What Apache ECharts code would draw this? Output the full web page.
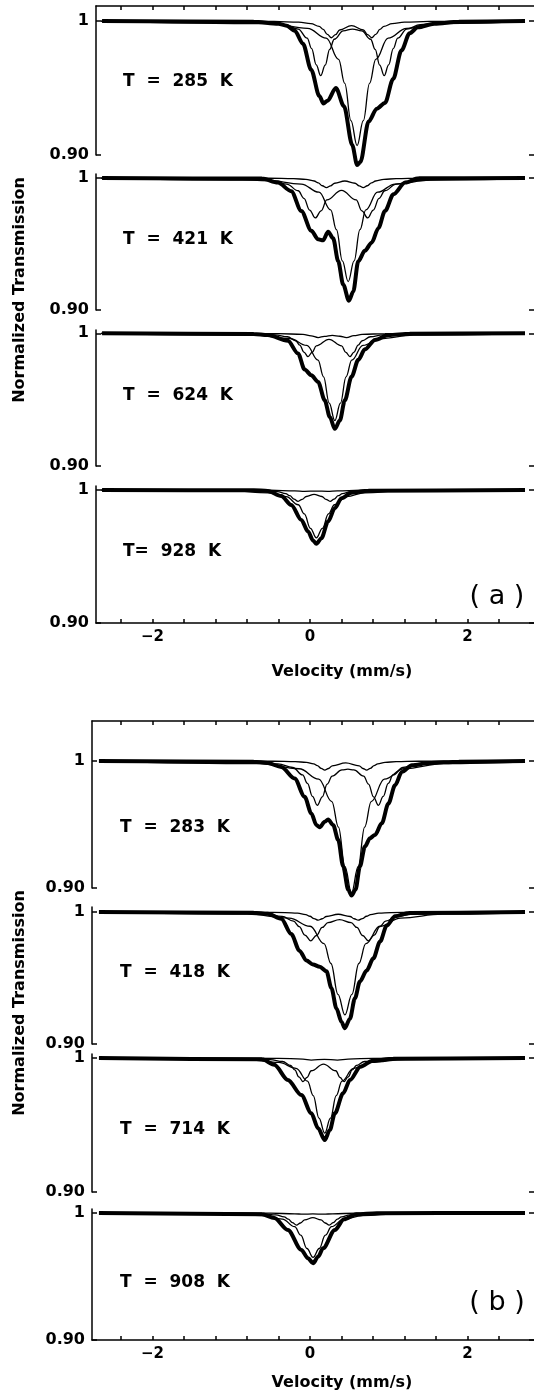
<!DOCTYPE html>
<html>
<head>
<meta charset="utf-8">
<script src="https://cdn.jsdelivr.net/npm/echarts@6/dist/echarts.min.js"></script>
<style>
  html, body { margin: 0; padding: 0; background: #fff; }
  #chart { width: 534px; height: 1392px; }
</style>
</head>
<body>
<div id="chart"></div>
<script>
// Mossbauer spectra: [velocity mm/s, normalized transmission]
const velTicks = [-2.4, -2, -1.6, -1.2, -0.8, -0.4, 0, 0.4, 0.8, 1.2, 1.6, 2, 2.4];
const velLabels = [-2, 0, 2];
const transTicks = [0.9, 1];
const tempLabelsA = ['T  =  285  K', 'T  =  421  K', 'T  =  624  K', 'T=  928  K'];
const tempLabelsB = ['T  =  283  K', 'T  =  418  K', 'T  =  714  K', 'T  =  908  K'];

// ---- panel (a) ----
const obs285 = [[-2.64,1.0],[-0.714,0.9995],[-0.401,0.998],[-0.297,0.9965],[-0.193,0.9927],[-0.089,0.983],[0.015,0.9636],[0.119,0.944],[0.171,0.9385],[0.223,0.9405],[0.328,0.95],[0.432,0.9364],[0.536,0.9075],[0.598,0.8925],[0.64,0.8947],[0.744,0.925],[0.848,0.9346],[0.952,0.9389],[1.056,0.9568],[1.161,0.978],[1.265,0.9909],[1.369,0.9953],[1.577,0.998],[1.889,0.9995],[2.73,1.0]];
const sing285 = [[-2.65,0.9998],[-0.505,0.9981],[-0.031,0.9945],[0.206,0.9872],[0.363,0.9714],[0.441,0.9535],[0.52,0.9256],[0.598,0.907],[0.677,0.9256],[0.756,0.9535],[0.835,0.9714],[0.992,0.9872],[1.227,0.9945],[1.699,0.9981],[2.73,0.9995]];
const dbl285 = [[-2.65,0.9999],[-0.666,0.999],[-0.322,0.9973],[-0.15,0.994],[-0.036,0.9872],[0.021,0.9794],[0.079,0.9673],[0.136,0.9592],[0.193,0.9671],[0.25,0.9789],[0.308,0.9864],[0.422,0.9926],[0.539,0.994],[0.656,0.9926],[0.77,0.9864],[0.827,0.9789],[0.885,0.9671],[0.942,0.9592],[0.999,0.9673],[1.057,0.9794],[1.114,0.9872],[1.228,0.994],[1.4,0.9973],[1.744,0.999],[2.73,0.9998]];
const weak285 = [[-2.65,0.9999],[-0.456,0.9997],[-0.144,0.9991],[0.012,0.9981],[0.116,0.996],[0.168,0.9937],[0.22,0.99],[0.272,0.9875],[0.324,0.9898],[0.376,0.9933],[0.527,0.9966],[0.678,0.9933],[0.731,0.9898],[0.783,0.9875],[0.835,0.99],[0.887,0.9937],[0.939,0.996],[1.043,0.9981],[1.199,0.9991],[1.512,0.9997],[2.73,0.9999]];

const obs421 = [[-2.64,1.0],[-0.61,0.9995],[-0.408,0.9965],[-0.238,0.99],[-0.11,0.975],[0.017,0.96],[0.103,0.9535],[0.166,0.9528],[0.23,0.9593],[0.294,0.9543],[0.358,0.937],[0.421,0.9194],[0.494,0.907],[0.549,0.914],[0.613,0.937],[0.698,0.945],[0.783,0.951],[0.868,0.962],[0.952,0.975],[1.06,0.9876],[1.208,0.9965],[1.379,0.9997],[2.73,1.0]];
const sing421 = [[-2.65,0.9998],[-0.558,0.9984],[-0.111,0.9954],[0.113,0.9892],[0.262,0.9758],[0.336,0.9608],[0.411,0.9372],[0.485,0.9215],[0.56,0.9372],[0.634,0.9608],[0.709,0.9758],[0.858,0.9892],[1.08,0.9954],[1.527,0.9984],[2.73,0.9995]];
const dbl421 = [[-2.65,0.9998],[-0.952,0.9992],[-0.515,0.9979],[-0.296,0.9954],[-0.15,0.9903],[-0.077,0.9846],[-0.005,0.9757],[0.068,0.9697],[0.141,0.9751],[0.214,0.9834],[0.4,0.9906],[0.586,0.9834],[0.659,0.9751],[0.732,0.9697],[0.804,0.9757],[0.877,0.9846],[0.95,0.9903],[1.096,0.9954],[1.315,0.9979],[1.752,0.9992],[2.73,0.9998]];
const weak421 = [[-2.65,1.0],[-0.52,0.9998],[-0.208,0.9995],[-0.051,0.9989],[0.053,0.9977],[0.105,0.9963],[0.157,0.9941],[0.209,0.9927],[0.261,0.994],[0.313,0.996],[0.442,0.9977],[0.572,0.996],[0.624,0.994],[0.676,0.9927],[0.728,0.9941],[0.781,0.9963],[0.833,0.9977],[0.937,0.9989],[1.093,0.9995],[1.405,0.9998],[2.73,1.0]];

const obs624 = [[-2.64,1.0],[-0.714,0.9995],[-0.536,0.9987],[-0.281,0.9944],[-0.152,0.9848],[-0.068,0.9727],[0.017,0.9684],[0.103,0.9634],[0.187,0.9495],[0.252,0.9369],[0.315,0.928],[0.379,0.9343],[0.442,0.9495],[0.527,0.9672],[0.613,0.98],[0.697,0.9879],[0.825,0.995],[0.996,0.9987],[1.265,0.9997],[2.73,1.0]];
const sing624 = [[-2.65,0.9998],[-0.684,0.9987],[-0.256,0.9961],[-0.041,0.9909],[0.102,0.9798],[0.172,0.9672],[0.244,0.9474],[0.315,0.9343],[0.387,0.9474],[0.458,0.9672],[0.53,0.9798],[0.672,0.9909],[0.886,0.9961],[1.314,0.9987],[2.73,0.9996]];
const dbl624 = [[-2.65,0.9999],[-0.754,0.9995],[-0.442,0.9988],[-0.286,0.9974],[-0.182,0.9944],[-0.13,0.9911],[-0.077,0.9859],[-0.025,0.9824],[0.027,0.9856],[0.079,0.9905],[0.241,0.9955],[0.402,0.9905],[0.455,0.9856],[0.507,0.9824],[0.559,0.9859],[0.611,0.9911],[0.663,0.9944],[0.767,0.9974],[0.923,0.9988],[1.236,0.9995],[2.73,0.9999]];
const weak624 = [[-2.65,1.0],[-0.401,0.9998],[-0.089,0.9992],[0.015,0.9981],[0.103,0.9968],[0.182,0.9977],[0.283,0.9985],[0.38,0.9978],[0.464,0.9968],[0.557,0.9982],[0.661,0.9992],[0.952,0.9998],[2.73,1.0]];

const obs928 = [[-2.64,1.0],[-0.714,0.9998],[-0.536,0.9993],[-0.365,0.9955],[-0.238,0.9888],[-0.11,0.9775],[-0.025,0.9688],[0.039,0.962],[0.081,0.9595],[0.145,0.9638],[0.23,0.9763],[0.315,0.9863],[0.4,0.9938],[0.527,0.998],[0.74,0.9995],[2.73,1.0]];
const sing928 = [[-2.65,0.9999],[-0.991,0.9993],[-0.531,0.9979],[-0.302,0.995],[-0.149,0.9889],[-0.072,0.982],[0.005,0.9712],[0.081,0.964],[0.158,0.9712],[0.234,0.982],[0.311,0.9889],[0.464,0.995],[0.693,0.9979],[1.152,0.9993],[2.73,0.9998]];
const dbl928 = [[-2.65,0.9999],[-0.88,0.9998],[-0.568,0.9994],[-0.412,0.9987],[-0.308,0.9973],[-0.256,0.9957],[-0.203,0.9932],[-0.151,0.9915],[-0.099,0.993],[-0.047,0.9951],[0.052,0.9967],[0.15,0.9951],[0.203,0.993],[0.255,0.9915],[0.307,0.9932],[0.359,0.9957],[0.411,0.9973],[0.515,0.9987],[0.671,0.9994],[0.983,0.9998],[2.73,0.9999]];
const weak928 = [[-2.65,1.0],[-0.505,0.9998],[-0.193,0.9993],[-0.068,0.999],[0.078,0.9992],[0.223,0.999],[0.348,0.9993],[0.64,0.9998],[2.73,1.0]];

// ---- panel (b) ----
const obs283 = [[-2.68,1.0],[-0.714,0.9995],[-0.536,0.9984],[-0.365,0.9953],[-0.195,0.9862],[-0.068,0.9718],[0.017,0.9587],[0.081,0.9496],[0.123,0.9478],[0.187,0.9522],[0.23,0.954],[0.294,0.9496],[0.358,0.9379],[0.421,0.917],[0.485,0.8987],[0.527,0.894],[0.578,0.8987],[0.634,0.917],[0.697,0.9326],[0.762,0.9392],[0.825,0.9418],[0.911,0.9509],[0.996,0.9666],[1.08,0.9809],[1.166,0.9914],[1.294,0.9966],[1.506,0.9984],[1.889,0.9995],[2.73,1.0]];
const sing283 = [[-2.65,0.9997],[-0.639,0.9979],[-0.139,0.9939],[0.111,0.9857],[0.277,0.968],[0.361,0.948],[0.444,0.9168],[0.527,0.896],[0.611,0.9168],[0.694,0.948],[0.777,0.968],[0.944,0.9857],[1.194,0.9939],[1.694,0.9979],[2.73,0.9993]];
const dbl283 = [[-2.65,0.9999],[-0.781,0.9991],[-0.407,0.9977],[-0.219,0.9949],[-0.094,0.989],[-0.032,0.9824],[0.031,0.9721],[0.093,0.9651],[0.156,0.9718],[0.218,0.9818],[0.281,0.9881],[0.406,0.993],[0.481,0.9936],[0.556,0.993],[0.681,0.9881],[0.743,0.9818],[0.806,0.9718],[0.868,0.9651],[0.93,0.9721],[0.993,0.9824],[1.055,0.989],[1.18,0.9949],[1.368,0.9977],[1.743,0.9991],[2.73,0.9998]];
const weak283 = [[-2.65,1.0],[-0.468,0.9998],[-0.187,0.9995],[-0.046,0.9989],[0.047,0.9977],[0.094,0.9963],[0.141,0.9942],[0.188,0.9928],[0.235,0.9941],[0.282,0.9962],[0.454,0.9985],[0.625,0.9962],[0.672,0.9941],[0.719,0.9928],[0.766,0.9942],[0.813,0.9963],[0.86,0.9977],[0.953,0.9989],[1.094,0.9995],[1.375,0.9998],[2.73,1.0]];

const obs418 = [[-2.68,1.0],[-0.714,0.9995],[-0.536,0.9987],[-0.365,0.9949],[-0.238,0.9833],[-0.132,0.9705],[-0.046,0.9633],[0.038,0.9603],[0.123,0.9585],[0.209,0.9551],[0.272,0.9423],[0.336,0.9269],[0.4,0.9167],[0.442,0.912],[0.507,0.9192],[0.57,0.9346],[0.634,0.9474],[0.719,0.9556],[0.804,0.9649],[0.89,0.9777],[0.974,0.9897],[1.08,0.9967],[1.251,0.9992],[2.73,1.0]];
const sing418 = [[-2.65,0.9997],[-0.796,0.9984],[-0.265,0.9954],[0.001,0.9892],[0.178,0.976],[0.266,0.961],[0.355,0.9376],[0.443,0.922],[0.532,0.9376],[0.62,0.961],[0.709,0.976],[0.886,0.9892],[1.151,0.9954],[1.682,0.9984],[2.73,0.9994]];
const dbl418 = [[-2.65,0.9999],[-1.012,0.9994],[-0.574,0.9985],[-0.355,0.9967],[-0.21,0.9931],[-0.137,0.9889],[-0.064,0.9825],[0.009,0.9782],[0.082,0.9822],[0.155,0.9883],[0.228,0.992],[0.375,0.9942],[0.522,0.992],[0.595,0.9883],[0.668,0.9822],[0.741,0.9782],[0.814,0.9825],[0.887,0.9889],[0.96,0.9931],[1.105,0.9967],[1.324,0.9985],[1.761,0.9994],[2.73,0.9998]];
const weak418 = [[-2.65,1.0],[-0.626,0.9998],[-0.314,0.9996],[-0.158,0.9991],[-0.054,0.998],[-0.001,0.9968],[0.051,0.995],[0.103,0.9938],[0.155,0.9949],[0.207,0.9966],[0.358,0.9983],[0.509,0.9966],[0.561,0.9949],[0.613,0.9938],[0.665,0.995],[0.717,0.9968],[0.769,0.998],[0.873,0.9991],[1.029,0.9996],[1.342,0.9998],[2.73,1.0]];

const obs714 = [[-2.68,1.0],[-0.61,0.999],[-0.453,0.995],[-0.281,0.9836],[-0.11,0.9724],[0.017,0.9587],[0.103,0.9475],[0.187,0.9388],[0.252,0.9463],[0.315,0.9587],[0.421,0.9737],[0.507,0.9836],[0.64,0.9935],[0.796,0.998],[1.056,0.9995],[2.73,1.0]];
const sing714 = [[-2.65,0.9998],[-0.834,0.9989],[-0.396,0.9967],[-0.177,0.9923],[-0.032,0.9828],[0.041,0.972],[0.114,0.9552],[0.187,0.944],[0.26,0.9552],[0.333,0.972],[0.406,0.9828],[0.551,0.9923],[0.77,0.9967],[1.207,0.9989],[2.73,0.9996]];
const dbl714 = [[-2.65,0.9999],[-0.818,0.9995],[-0.505,0.9988],[-0.349,0.9974],[-0.245,0.9944],[-0.193,0.9911],[-0.141,0.9859],[-0.089,0.9824],[-0.037,0.9856],[0.015,0.9905],[0.171,0.9955],[0.328,0.9905],[0.38,0.9856],[0.432,0.9824],[0.484,0.9859],[0.536,0.9911],[0.588,0.9944],[0.692,0.9974],[0.848,0.9988],[1.161,0.9995],[2.73,0.9999]];
const weak714 = [[-2.65,1.0],[-0.401,0.9998],[-0.089,0.9992],[0.015,0.9985],[0.182,0.999],[0.348,0.9985],[0.484,0.9992],[0.796,0.9998],[2.73,1.0]];

const obs908 = [[-2.68,1.0],[-0.61,0.999],[-0.453,0.996],[-0.281,0.9866],[-0.11,0.9709],[-0.025,0.9643],[0.039,0.9604],[0.103,0.9656],[0.166,0.9722],[0.315,0.9866],[0.432,0.995],[0.588,0.999],[0.848,0.9998],[2.73,1.0]];
const sing908 = [[-2.65,0.9999],[-1.054,0.9993],[-0.586,0.9979],[-0.351,0.9952],[-0.195,0.9892],[-0.117,0.9825],[-0.039,0.972],[0.039,0.965],[0.117,0.972],[0.195,0.9825],[0.273,0.9892],[0.43,0.9952],[0.664,0.9979],[1.132,0.9993],[2.73,0.9998]];
const dbl908 = [[-2.65,0.9999],[-0.901,0.9998],[-0.589,0.9993],[-0.433,0.9985],[-0.328,0.9969],[-0.276,0.9951],[-0.224,0.9924],[-0.172,0.9904],[-0.12,0.9921],[-0.068,0.9945],[0.036,0.9963],[0.14,0.9945],[0.192,0.9921],[0.244,0.9904],[0.296,0.9924],[0.348,0.9951],[0.4,0.9969],[0.505,0.9985],[0.661,0.9993],[0.973,0.9998],[2.73,0.9999]];
const weak908 = [[-2.65,1.0],[-0.505,0.9998],[-0.193,0.9993],[-0.089,0.999],[0.036,0.9992],[0.171,0.999],[0.286,0.9993],[0.588,0.9998],[2.73,1.0]];

const spectraA = [
  [obs285, sing285, dbl285, weak285],
  [obs421, sing421, dbl421, weak421],
  [obs624, sing624, dbl624, weak624],
  [obs928, sing928, dbl928, weak928]
];
const spectraB = [
  [obs283, sing283, dbl283, weak283],
  [obs418, sing418, dbl418, weak418],
  [obs714, sing714, dbl714, weak714],
  [obs908, sing908, dbl908, weak908]
];

// layout: pixel rows [top, bottom(=0.90), y max]
const FONT = '"DejaVu Sans", sans-serif';
const panels = [
  { left: 96, xmin: -2.717, xmax: 2.844, spectra: spectraA, labels: tempLabelsA, labelX: 123,
    labelY: [82, 240, 396, 552],
    rows: [[6, 155, 1.0112], [174, 310, 1.003], [330, 466, 1.0025], [486, 623, 1.003]] },
  { left: 92, xmin: -2.768, xmax: 2.844, spectra: spectraB, labels: tempLabelsB, labelX: 120,
    labelY: [828, 973, 1130, 1283],
    rows: [[721, 888, 1.0315], [907, 1044, 1.0038], [1054, 1192, 1.003], [1209, 1340, 1.0031]] }
];

const grid = [], xAxis = [], yAxis = [], series = [], graphic = [];
const black = '#000';
const tickStyle = { color: black, width: 1.5 };

panels.forEach((p) => {
  p.rows.forEach((r, i) => {
    const gi = grid.length;
    grid.push({ left: p.left, right: 0, top: r[0], height: r[1] - r[0], outerBoundsMode: 'none' });

    const isBottom = i === p.rows.length - 1;
    const xi = xAxis.length;
    xAxis.push({
      type: 'value', gridIndex: gi, min: p.xmin, max: p.xmax, position: 'bottom',
      show: isBottom,
      axisLine: { show: true, onZero: false, lineStyle: tickStyle },
      axisTick: { show: true, inside: true, length: 4, customValues: velTicks, lineStyle: tickStyle },
      axisLabel: {
        show: true, customValues: velLabels, margin: 7,
        formatter: (v) => (v < 0 ? '\u2212' + Math.abs(v) : String(v)),
        color: black, fontFamily: FONT, fontWeight: 'bold', fontSize: 15
      },
      splitLine: { show: false }
    });
    if (i === 0) {
      // top frame of the panel
      xAxis.push({
        type: 'value', gridIndex: gi, min: p.xmin, max: p.xmax, position: 'top',
        axisLine: { show: true, onZero: false, lineStyle: tickStyle },
        axisTick: { show: true, inside: true, length: 4, customValues: velTicks, lineStyle: tickStyle },
        axisLabel: { show: false },
        splitLine: { show: false }
      });
    }

    const yi = yAxis.length;
    yAxis.push({
      type: 'value', gridIndex: gi, min: 0.9, max: r[2], position: 'left',
      axisLine: { show: true, onZero: false, lineStyle: tickStyle },
      axisTick: { show: true, inside: true, length: 5, customValues: transTicks, lineStyle: tickStyle },
      axisLabel: {
        show: true, customValues: transTicks, margin: 7,
        formatter: (v) => (v === 1 ? '1' : v.toFixed(2)),
        color: black, fontFamily: FONT, fontWeight: 'bold', fontSize: 16
      },
      splitLine: { show: false }
    });
    yAxis.push({
      type: 'value', gridIndex: gi, min: 0.9, max: r[2], position: 'right',
      axisLine: { show: false, onZero: false },
      axisTick: { show: true, inside: true, length: 5, customValues: transTicks, lineStyle: tickStyle },
      axisLabel: { show: false },
      splitLine: { show: false }
    });

    p.spectra[i].forEach((d, k) => {
      series.push({
        type: 'line', xAxisIndex: xi, yAxisIndex: yi, data: d,
        symbol: 'none', smooth: k === 0 ? 0.3 : 0.4, smoothMonotone: 'x', clip: false,
        silent: true, z: k === 0 ? 2 : 3,
        lineStyle: { color: black, width: k === 0 ? 4 : 1.3 }
      });
    });

    graphic.push({
      type: 'text', x: p.labelX, y: p.labelY[i],
      style: { text: p.labels[i], fill: black, font: 'bold 17px ' + FONT,
               align: 'left', verticalAlign: 'middle', textAlign: 'left', textVerticalAlign: 'middle' }
    });
  });
});

const titleFont = 'bold 16px ' + FONT;
[290, 1003].forEach((y) => {
  graphic.push({
    type: 'text', x: 20, y: y, rotation: Math.PI / 2,
    style: { text: 'Normalized Transmission', fill: black, font: titleFont,
             align: 'center', verticalAlign: 'middle', textAlign: 'center', textVerticalAlign: 'middle' }
  });
});
[672, 1383].forEach((y) => {
  graphic.push({
    type: 'text', x: 342, y: y,
    style: { text: 'Velocity (mm/s)', fill: black, font: titleFont,
             align: 'center', verticalAlign: 'middle', textAlign: 'center', textVerticalAlign: 'middle' }
  });
});
[['( a )', 597], ['( b )', 1303]].forEach(([t, y]) => {
  graphic.push({
    type: 'text', x: 497, y: y,
    style: { text: t, fill: black, font: '27px ' + FONT,
             align: 'center', verticalAlign: 'middle', textAlign: 'center', textVerticalAlign: 'middle' }
  });
});

const chart = echarts.init(document.getElementById('chart'), null, { renderer: 'canvas' });
chart.setOption({
  animation: false,
  backgroundColor: '#fff',
  grid, xAxis, yAxis, series, graphic
});
</script>
</body>
</html>
